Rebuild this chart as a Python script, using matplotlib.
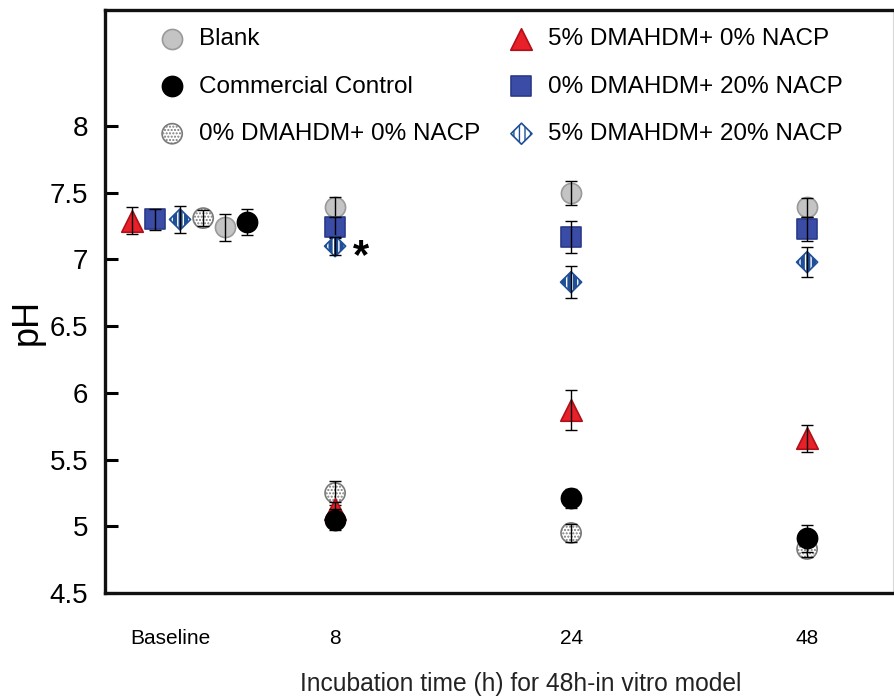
import numpy as np
import matplotlib
matplotlib.use('Agg')
import matplotlib.pyplot as plt

plt.rcParams['font.family'] = ['Liberation Sans', 'DejaVu Sans']

# 数据
times = ['Baseline', '8', '24', '48']
tick_pos = [0.30, 1, 2, 3]

labels = ['Blank', 'Commercial Control', '0% DMAHDM+ 0% NACP',
          '5% DMAHDM+ 0% NACP', '0% DMAHDM+ 20% NACP', '5% DMAHDM+ 20% NACP']
base_x = [0.534, 0.627, 0.441, 0.140, 0.237, 0.343]

blank = [7.24, 7.39, 7.50, 7.39]
blank_err = [0.10, 0.08, 0.09, 0.07]
commercial = [7.28, 5.05, 5.21, 4.91]
commercial_err = [0.10, 0.08, 0.07, 0.10]
dm0_nacp0 = [7.31, 5.25, 4.95, 4.83]
dm0_nacp0_err = [0.06, 0.09, 0.07, 0.06]
dm5_nacp0 = [7.29, 5.13, 5.87, 5.66]
dm5_nacp0_err = [0.10, 0.05, 0.15, 0.10]
dm0_nacp20 = [7.30, 7.24, 7.17, 7.23]
dm0_nacp20_err = [0.08, 0.08, 0.12, 0.09]
dm5_nacp20 = [7.30, 7.10, 6.83, 6.98]
dm5_nacp20_err = [0.10, 0.07, 0.12, 0.11]

values = [blank, commercial, dm0_nacp0, dm5_nacp0, dm0_nacp20, dm5_nacp20]
errors = [blank_err, commercial_err, dm0_nacp0_err, dm5_nacp0_err, dm0_nacp20_err, dm5_nacp20_err]

# 样式: marker, size, face, edge, hatch, hatch colour, hatch width, zorder
styles = [
    dict(marker='o', s=210, fc='#c4c4c4', ec='#9a9a9a', hatch=None, hc='black', hw=1.0, z=3.0),
    dict(marker='o', s=210, fc='black', ec='black', hatch=None, hc='black', hw=1.0, z=3.3),
    dict(marker='o', s=210, fc='white', ec='#7a7a7a', hatch='.....', hc='#707070', hw=1.0, z=3.1),
    dict(marker='^', s=240, fc='#e8202a', ec='#b01018', hatch=None, hc='black', hw=1.0, z=3.2),
    dict(marker='s', s=200, fc='#3a4ca6', ec='#2a3a8a', hatch=None, hc='black', hw=1.0, z=3.4),
    dict(marker='D', s=115, fc='white', ec='#1f4f96', hatch='|||', hc='#3d9de0', hw=3.0, z=3.5),
]

fig = plt.figure(figsize=(8.95, 6.97), dpi=100)
ax = fig.add_axes([105/895, 1-593/697, 788/895, 583/697])

handles = []
for i in range(len(labels)):
    xs = [base_x[i]] + tick_pos[1:]
    st = styles[i]
    ax.errorbar(xs, values[i], yerr=errors[i], fmt='none', ecolor='black',
                elinewidth=1.0, capsize=4.5, capthick=1.0, zorder=st['z'] + 0.05)
    with plt.rc_context({'hatch.color': st['hc'], 'hatch.linewidth': st['hw']}):
        h = ax.scatter(xs, values[i], s=st['s'], marker=st['marker'], facecolor=st['fc'],
                       edgecolor=st['ec'], linewidth=1.2, hatch=st['hatch'],
                       zorder=st['z'], label=labels[i])
    handles.append(h)

# 星号
ax.annotate('*', xy=(tick_pos[1], dm5_nacp20[1]), xytext=(13, -8), textcoords='offset points',
            fontsize=30, fontweight='bold', ha='left', va='center')

ax.set_xlim(0.025, 3.364)
ax.set_ylim(4.5, 8.87)
ax.set_yticks([4.5, 5, 5.5, 6, 6.5, 7, 7.5, 8])
ax.set_yticklabels(['4.5', '5', '5.5', '6', '6.5', '7', '7.5', '8'])
ax.set_xticks(tick_pos)
ax.set_xticklabels(times)

ax.tick_params(axis='y', direction='in', length=9.5, width=2.2, labelsize=20, pad=12)
ax.tick_params(axis='x', length=0, labelsize=15, pad=26)

for side in ['left', 'top', 'bottom']:
    ax.spines[side].set_linewidth(2.4)
    ax.spines[side].set_color('#111111')
ax.spines['right'].set_linewidth(0.8)
ax.spines['right'].set_color('#d8d8d8')

ax.set_ylabel('pH', fontsize=26)
ax.yaxis.set_label_coords(-0.076, 0.465)
ax.set_xlabel('Incubation time (h) for 48h-in vitro model', fontsize=17.7, color='#222222')
ax.xaxis.set_label_coords(0.527, -0.136)

fig.legend(handles=handles, labels=labels, ncol=2, loc='upper left',
           bbox_to_anchor=(160/895, 1-28/697), frameon=False, fontsize=17.5,
           scatterpoints=1, handlelength=1.0, handletextpad=0.6,
           columnspacing=1.2, labelspacing=1.05, borderpad=0, borderaxespad=0)

fig.savefig('out.png', dpi=100)
